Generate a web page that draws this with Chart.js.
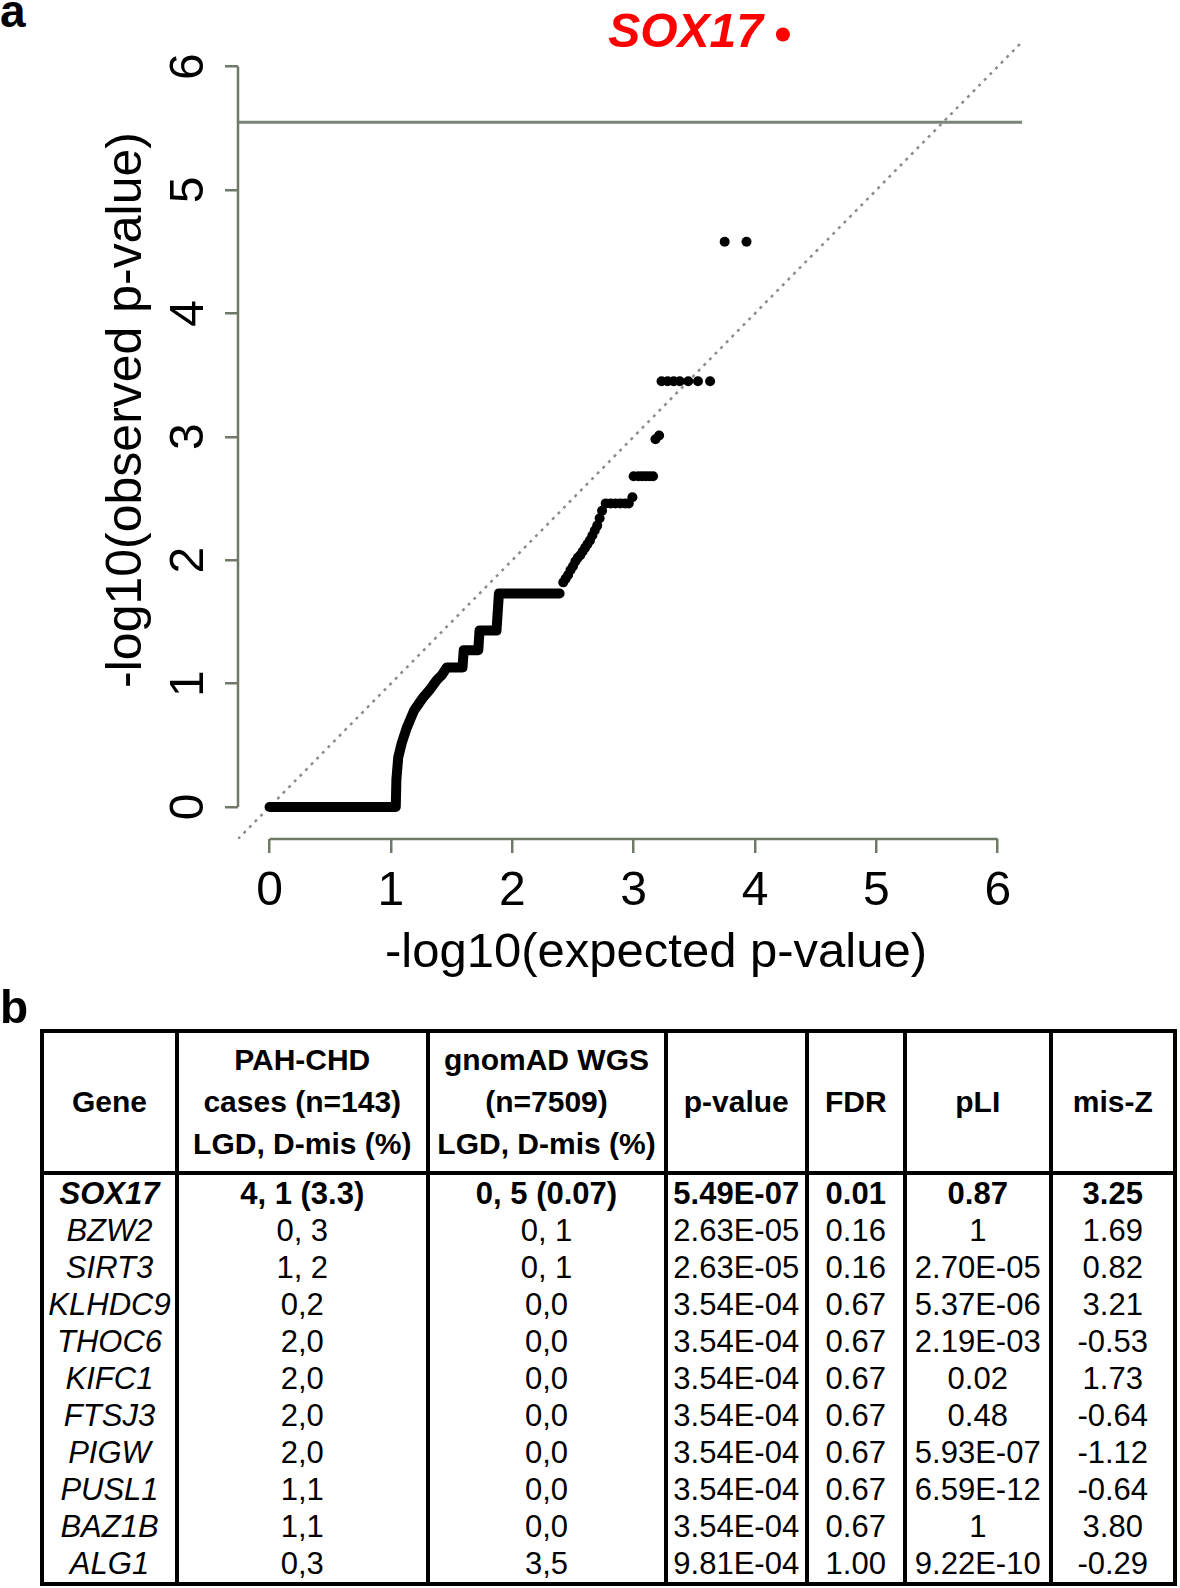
<!DOCTYPE html>
<html>
<head>
<meta charset="utf-8">
<title>QQ plot and gene table</title>
<script src="https://cdn.jsdelivr.net/npm/chart.js@4.4.1/dist/chart.umd.min.js"></script>
<style>
  html, body { margin: 0; padding: 0; background: #fff; }
  body { width: 1180px; height: 1588px; position: relative; overflow: hidden;
         font-family: "Liberation Sans", Arial, Helvetica, sans-serif; color: #000; }
  .panel-label { position: absolute; left: 0; font-weight: bold; font-size: 46px; line-height: 46px; }
  #qq { position: absolute; left: 0; top: 0; }
  .tbl { position: absolute; left: 40px; top: 1029px; width: 1137px; box-sizing: border-box;
         border: 4px solid #000; background: #000; display: grid; column-gap: 4px;
         grid-template-columns: 131px 246.5px 234px 137.5px 93.5px 142.5px 119.5px; }
  .tbl div { background: #fff; text-align: center; font-size: 31px; height: 37px; line-height: 37px; white-space: nowrap; }
  .tbl div.h { font-weight: bold; font-size: 30px; line-height: 42px; height: 138px; border-bottom: 4px solid #000;
               display: flex; flex-direction: column; justify-content: center; align-items: center; }
  .tbl div.gene { font-style: italic; }
  .tbl div.top { font-weight: bold; }
</style>
</head>
<body>
<div class="panel-label" style="top:-12px">a</div>
<canvas id="qq" width="1180" height="990"></canvas>
<div class="panel-label" style="top:984px">b</div>
<div class="tbl" id="tbl"></div>

<script>
// ---- panel a: QQ plot data ----
const axisTicks = [0, 1, 2, 3, 4, 5, 6];

// dense run of genes, drawn as one thick stroke
const stairX = [0, 1.04, 1.045, 1.06, 1.09, 1.13, 1.19, 1.26, 1.32, 1.38, 1.42, 1.46, 1.59, 1.60, 1.72, 1.73, 1.87, 1.89, 2.39];
const stairY = [0, 0, 0.22, 0.40, 0.52, 0.64, 0.78, 0.88, 0.95, 1.03, 1.07, 1.13, 1.13, 1.27, 1.27, 1.43, 1.43, 1.73, 1.73];

// separate gene points
const pointX = [2.42, 2.44, 2.46, 2.48, 2.50, 2.52, 2.54, 2.56, 2.58, 2.60, 2.62, 2.64, 2.66, 2.68, 2.70, 2.72, 2.74,
                2.77, 2.81, 2.85, 2.89, 2.93, 2.96, 2.99,
                3.00, 3.04, 3.07, 3.10, 3.13, 3.16,
                3.18, 3.21,
                3.23, 3.28, 3.33, 3.38, 3.45, 3.53, 3.63,
                3.75, 3.93];
const pointY = [1.82, 1.85, 1.88, 1.92, 1.95, 1.99, 2.02, 2.04, 2.07, 2.10, 2.13, 2.16, 2.20, 2.24, 2.28, 2.34, 2.40,
                2.46, 2.46, 2.46, 2.46, 2.46, 2.46, 2.51,
                2.68, 2.68, 2.68, 2.68, 2.68, 2.68,
                2.98, 3.01,
                3.45, 3.45, 3.45, 3.45, 3.45, 3.45, 3.45,
                4.58, 4.58];

const hitGene = 'SOX17';
const hitX = 4.23;
const hitY = 6.26;
const threshold = 5.55;

const xTitle = '-log10(expected p-value)';
const yTitle = '-log10(observed p-value)';

// ---- panel b: table ----
const headers = [['Gene'], ['PAH-CHD', 'cases (n=143)', 'LGD, D-mis (%)'], ['gnomAD WGS', '(n=7509)', 'LGD, D-mis (%)'],
                 ['p-value'], ['FDR'], ['pLI'], ['mis-Z']];
const genes  = ['SOX17', 'BZW2', 'SIRT3', 'KLHDC9', 'THOC6', 'KIFC1', 'FTSJ3', 'PIGW', 'PUSL1', 'BAZ1B', 'ALG1'];
const cases  = ['4, 1 (3.3)', '0, 3', '1, 2', '0,2', '2,0', '2,0', '2,0', '2,0', '1,1', '1,1', '0,3'];
const gnomad = ['0, 5 (0.07)', '0, 1', '0, 1', '0,0', '0,0', '0,0', '0,0', '0,0', '0,0', '0,0', '3,5'];
const pvals  = ['5.49E-07', '2.63E-05', '2.63E-05', '3.54E-04', '3.54E-04', '3.54E-04', '3.54E-04', '3.54E-04', '3.54E-04', '3.54E-04', '9.81E-04'];
const fdr    = ['0.01', '0.16', '0.16', '0.67', '0.67', '0.67', '0.67', '0.67', '0.67', '0.67', '1.00'];
const pli    = ['0.87', '1', '2.70E-05', '5.37E-06', '2.19E-03', '0.02', '0.48', '5.93E-07', '6.59E-12', '1', '9.22E-10'];
const misz   = ['3.25', '1.69', '0.82', '3.21', '-0.53', '1.73', '-0.64', '-1.12', '-0.64', '3.80', '-0.29'];

const FONT = '"Liberation Sans", Arial, Helvetica, sans-serif';
const axisColor = '#6f7968';

Chart.defaults.font.family = FONT;

// extra drawing: R style axis lines, threshold, identity line, rotated labels
const qqDecor = {
  id: 'qqDecor',
  beforeDatasetsDraw(chart) {
    const { ctx, chartArea: a, scales: { x, y } } = chart;
    ctx.save();
    ctx.beginPath();
    ctx.rect(a.left, a.top, a.right - a.left, a.bottom - a.top);
    ctx.clip();

    const ty = y.getPixelForValue(threshold);
    ctx.strokeStyle = '#7b8577';
    ctx.lineWidth = 3;
    ctx.beginPath();
    ctx.moveTo(a.left, ty);
    ctx.lineTo(a.right, ty);
    ctx.stroke();

    // y = x
    const lo = Math.min(x.min, y.min), hi = Math.max(x.max, y.max);
    ctx.setLineDash([3, 5]);
    ctx.strokeStyle = '#8c8c8c';
    ctx.lineWidth = 2.5;
    ctx.beginPath();
    ctx.moveTo(x.getPixelForValue(lo), y.getPixelForValue(lo));
    ctx.lineTo(x.getPixelForValue(hi), y.getPixelForValue(hi));
    ctx.stroke();
    ctx.restore();
  },
  afterDraw(chart) {
    const { ctx, chartArea: a, scales: { x, y } } = chart;
    const first = axisTicks[0], last = axisTicks[axisTicks.length - 1];
    ctx.save();
    ctx.strokeStyle = axisColor;
    ctx.lineWidth = 2.5;
    ctx.beginPath();
    ctx.moveTo(x.getPixelForValue(first), a.bottom);
    ctx.lineTo(x.getPixelForValue(last), a.bottom);
    ctx.moveTo(a.left, y.getPixelForValue(first));
    ctx.lineTo(a.left, y.getPixelForValue(last));
    ctx.stroke();

    ctx.fillStyle = '#000';
    // y tick labels, rotated like R's las=0
    ctx.font = '48px ' + FONT;
    ctx.textAlign = 'center';
    ctx.textBaseline = 'alphabetic';
    y.ticks.forEach(t => {
      ctx.save();
      ctx.translate(a.left - 35, y.getPixelForValue(t.value));
      ctx.rotate(-Math.PI / 2);
      ctx.fillText(String(t.value), 0, 0);
      ctx.restore();
    });

    // axis titles
    ctx.font = '50px ' + FONT;
    ctx.save();
    ctx.translate(a.left - 97, (a.top + a.bottom) / 2 - 28);
    ctx.rotate(-Math.PI / 2);
    ctx.fillText(yTitle, 0, 0);
    ctx.restore();

    ctx.font = '49px ' + FONT;
    ctx.fillText(xTitle, (a.left + a.right) / 2 + 26, a.bottom + 128);

    // hit label
    ctx.font = 'italic bold 48px ' + FONT;
    ctx.fillStyle = '#ff0000';
    ctx.textAlign = 'right';
    ctx.textBaseline = 'middle';
    ctx.fillText(hitGene, x.getPixelForValue(hitX) - 20, y.getPixelForValue(hitY) - 1);
    ctx.restore();
  }
};

const toXY = (xs, ys) => xs.map((v, i) => ({ x: v, y: ys[i] }));

new Chart(document.getElementById('qq'), {
  type: 'scatter',
  data: {
    datasets: [
      {
        label: 'dense',
        data: toXY(stairX, stairY),
        showLine: true,
        borderColor: '#000',
        borderWidth: 10,
        borderJoinStyle: 'round',
        borderCapStyle: 'round',
        pointRadius: 0,
        tension: 0
      },
      {
        label: 'genes',
        data: toXY(pointX, pointY),
        pointRadius: 5,
        backgroundColor: '#000',
        borderWidth: 0
      },
      {
        label: hitGene,
        data: [{ x: hitX, y: hitY }],
        pointRadius: 7,
        backgroundColor: '#ff0000',
        borderWidth: 0,
        clip: false
      }
    ]
  },
  options: {
    responsive: false,
    animation: false,
    devicePixelRatio: 1,
    layout: { padding: { top: 37, right: 158, left: 0, bottom: 0 } },
    plugins: { legend: { display: false }, tooltip: { enabled: false } },
    scales: {
      x: {
        type: 'linear',
        min: -0.26,
        max: 6.2,
        afterFit: s => { s.height = 151; },
        border: { display: false },
        grid: { drawOnChartArea: false, drawTicks: true, tickLength: 14, color: axisColor, lineWidth: 2.5 },
        ticks: { stepSize: 1, includeBounds: false, maxRotation: 0, color: '#000', font: { size: 48 }, padding: 10 }
      },
      y: {
        type: 'linear',
        min: -0.26,
        max: 6.24,
        afterFit: s => { s.width = 238; },
        border: { display: false },
        grid: { drawOnChartArea: false, drawTicks: true, tickLength: 13, color: axisColor, lineWidth: 2.5 },
        ticks: { stepSize: 1, includeBounds: false, display: false }
      }
    }
  },
  plugins: [qqDecor]
});

// ---- build the table ----
const tbl = document.getElementById('tbl');
headers.forEach(lines => {
  const d = document.createElement('div');
  d.className = 'h';
  lines.forEach(l => { const s = document.createElement('span'); s.textContent = l; d.appendChild(s); });
  tbl.appendChild(d);
});
genes.forEach((g, i) => {
  const row = [g, cases[i], gnomad[i], pvals[i], fdr[i], pli[i], misz[i]];
  row.forEach((txt, j) => {
    const d = document.createElement('div');
    d.textContent = txt;
    if (j === 0) d.classList.add('gene');
    if (i === 0) d.classList.add('top');
    tbl.appendChild(d);
  });
});
</script>
</body>
</html>
